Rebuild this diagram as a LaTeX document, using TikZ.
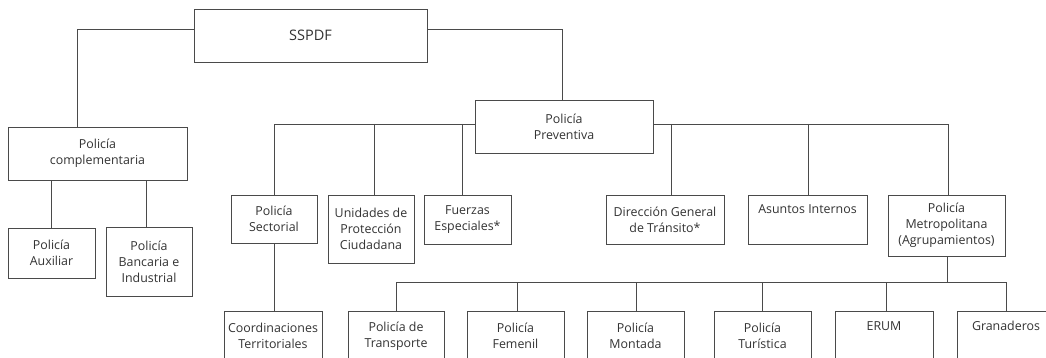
\documentclass[tikz,border=0pt]{standalone}
\usepackage{fontspec}
\setmainfont{Open Sans}
\definecolor{ln}{HTML}{4A4A4A}
\definecolor{tx}{HTML}{333333}
\begin{document}
\begin{tikzpicture}[x=1pt,y=-1pt,
  box/.style={draw=ln, line width=0.9pt, rectangle, inner sep=0pt, align=center,
    text=tx, font=\fontsize{12.4}{16}\selectfont},
  conn/.style={draw=ln, line width=0.9pt}]
\clip (0,0) rectangle (1046,358);
\fill[white] (0,0) rectangle (1046,358);
% top
\node[box, minimum width=233pt, minimum height=53pt, font=\fontsize{14.5}{17}\selectfont] (sspdf) at (310.5,35.5) {SSPDF};
\node[box, minimum width=179pt, minimum height=53pt] (comp) at (97.5,153.5) {Policía\\complementaria};
\node[box, minimum width=87pt, minimum height=50pt] (aux) at (51.5,253) {Policía\\Auxiliar};
\node[box, minimum width=86pt, minimum height=69pt] (banc) at (149,261.5) {Policía\\Bancaria e\\Industrial};
\node[box, minimum width=178pt, minimum height=53pt] (prev) at (564,126.5) {Policía\\Preventiva};
% second row
\node[box, minimum width=86pt, minimum height=48pt] (sect) at (274,219) {Policía\\Sectorial};
\node[box, minimum width=86pt, minimum height=68pt] (unid) at (371,229) {Unidades de\\Protección\\Ciudadana};
\node[box, minimum width=87pt, minimum height=49pt] (fuer) at (467.5,219.5) {Fuerzas\\Especiales*};
\node[box, minimum width=118pt, minimum height=49pt] (dir) at (665,219.5) {Dirección General\\de Tránsito*};
\node[box, minimum width=119pt, minimum height=49pt] (asun) at (807.5,219.5) {Asuntos Internos\\\strut};
\node[box, minimum width=117pt, minimum height=61pt] (metro) at (946.5,225.5) {Policía\\Metropolitana\\(Agrupamientos)};
% bottom row
\node[box, minimum width=98pt, minimum height=50pt] (coord) at (273,336) {Coordinaciones\\Territoriales};
\node[box, minimum width=96pt, minimum height=50pt] (trans) at (396,336) {Policía de\\Transporte};
\node[box, minimum width=97pt, minimum height=50pt] (fem) at (515.5,336) {Policía\\Femenil};
\node[box, minimum width=97pt, minimum height=50pt] (mont) at (635.5,336) {Policía\\Montada};
\node[box, minimum width=97pt, minimum height=50pt] (tur) at (762.5,336) {Policía\\Turística};
\node[box, minimum width=98pt, minimum height=50pt] (erum) at (884,336) {ERUM\\\strut};
\node[box, minimum width=98pt, minimum height=50pt] (gran) at (1006,336) {Granaderos\\\strut};
% connectors
\draw[conn] ([yshift=6.5pt]sspdf.west) -| ([xshift=-20.5pt]comp.north);
\draw[conn] ([yshift=6.5pt]sspdf.east) -| ([xshift=-2pt]prev.north);
\draw[conn] ([xshift=-0.5pt]aux.north |- comp.south) -- ([xshift=-0.5pt]aux.north);
\draw[conn] ([xshift=-3pt]banc.north |- comp.south) -- ([xshift=-3pt]banc.north);
\draw[conn] ([yshift=2.5pt]prev.west) -| (sect.north);
\draw[conn] ([yshift=2.5pt]prev.east) -| ([xshift=1.5pt]metro.north);
\draw[conn] ([xshift=3pt,yshift=2.5pt]unid.north |- prev.west) -- ([xshift=3pt]unid.north);
\draw[conn] ([xshift=-5.5pt,yshift=2.5pt]fuer.north |- prev.west) -- ([xshift=-5.5pt]fuer.north);
\draw[conn] ([xshift=6.5pt,yshift=2.5pt]dir.north |- prev.east) -- ([xshift=6.5pt]dir.north);
\draw[conn] ([xshift=0.5pt,yshift=2.5pt]asun.north |- prev.east) -- ([xshift=0.5pt]asun.north);
\draw[conn] (sect.south) -- (coord.north -| sect.south);
\coordinate (bj) at (947,282);
\draw[conn] ([xshift=0.5pt]metro.south) -- ([xshift=0.5pt]metro.south |- bj);
\draw[conn] (trans.north |- bj) -- (gran.north |- bj);
\foreach \n/\s in {trans/0, fem/1.5, mont/0.5, tur/-0.5, erum/2, gran/0}
  \draw[conn] ([xshift=\s pt]\n.north |- bj) -- ([xshift=\s pt]\n.north);
\end{tikzpicture}
\end{document}
